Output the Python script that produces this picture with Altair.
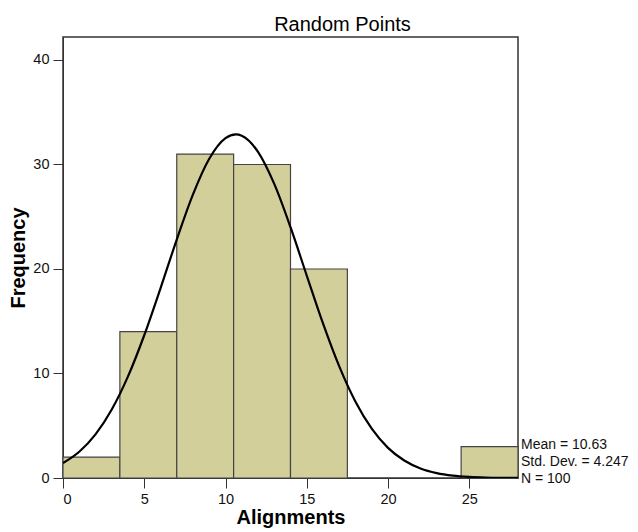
import altair as alt
import pandas as pd

# Histogram bins (Alignments) and counts
bin_start = [0, 3.5, 7, 10.5, 14, 24.5]
bin_end = [3.5, 7, 10.5, 14, 17.5, 28]
counts = [2, 14, 31, 30, 20, 3]

# Normal curve points
curve_x = [0, 1, 2, 3, 4, 5, 6, 7, 8, 9, 10, 10.63, 11, 12, 13, 14, 15, 16, 17,
           18, 19, 20, 21, 22, 23, 24, 25, 26, 27, 28]
curve_y = [1.43, 2.51, 4.17, 6.55, 9.72, 13.66, 18.15, 22.82, 27.14, 30.55, 32.52,
           32.88, 32.76, 31.21, 28.14, 24.0, 19.37, 14.79, 10.68, 7.30, 4.72, 2.88,
           1.67, 0.91, 0.47, 0.23, 0.11, 0.05, 0.02, 0.01]

stats_lines = ["Mean = 10.63", "Std. Dev. = 4.247", "N = 100"]
stats_y = [3.2, 1.53, -0.12]

bars_df = pd.DataFrame({"start": bin_start, "end": bin_end, "count": counts})
curve_df = pd.DataFrame({"x": curve_x, "y": curve_y})
stats_df = pd.DataFrame({"label": stats_lines, "y": stats_y})

FONT = "Liberation Sans"

xscale = alt.Scale(domain=[0, 28], nice=False, zero=False)
yscale = alt.Scale(domain=[0, 42.2], nice=False)

bars = alt.Chart(bars_df).mark_rect(
    fill="#d3cf9b", stroke="#444444", strokeWidth=1.2
).encode(
    x=alt.X("start:Q", scale=xscale,
            axis=alt.Axis(title="Alignments", values=[0, 5, 10, 15, 20, 25],
                          grid=False, tickSize=10, labelPadding=4,
                          titlePadding=2, titleFontSize=20, titleFontWeight="bold",
                          labelFontSize=14.5, domainColor="#333333",
                          tickColor="#333333", labelColor="#111111",
                          titleColor="#000000", labelFont=FONT, titleFont=FONT)),
    x2="end:Q",
    y=alt.Y("count:Q", scale=yscale,
            axis=alt.Axis(title="Frequency", values=[0, 10, 20, 30, 40],
                          grid=False, tickSize=10, labelPadding=4,
                          titlePadding=4, titleFontSize=20, titleFontWeight="bold",
                          labelFontSize=14.5, domainColor="#333333",
                          tickColor="#333333", labelColor="#111111",
                          titleColor="#000000", labelFont=FONT, titleFont=FONT)),
    y2=alt.datum(0),
)

curve = alt.Chart(curve_df).mark_line(
    color="#000000", strokeWidth=2.2, interpolate="monotone", clip=True
).encode(
    x=alt.X("x:Q", scale=xscale),
    y=alt.Y("y:Q", scale=yscale),
)

stats = alt.Chart(stats_df).mark_text(
    align="left", baseline="middle", font=FONT, fontSize=14, color="#111111", dx=3
).encode(
    x=alt.value(455),
    y=alt.Y("y:Q", scale=yscale),
    text="label:N",
)

chart = alt.layer(bars, curve, stats).properties(
    width=455,
    height=441,
    padding={"left": 55, "top": 29, "right": 112, "bottom": 54},
    autosize=alt.AutoSizeParams(type="none"),
    title=alt.TitleParams("Random Points", fontSize=20, fontWeight="normal",
                          font=FONT, color="#000000", anchor="middle", dx=52,
                          offset=2),
).configure_view(
    stroke="#333333", strokeWidth=1.5
)

chart.save("out.html", embed_options={"renderer": "svg", "actions": False})
